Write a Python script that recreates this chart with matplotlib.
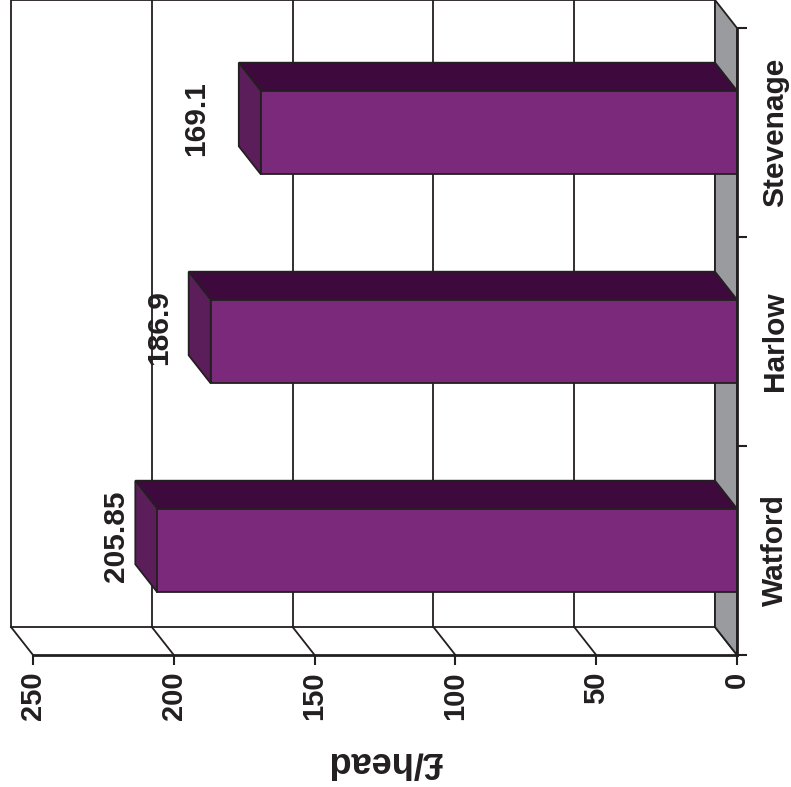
import matplotlib
matplotlib.use("Agg")
import matplotlib.pyplot as plt
from matplotlib.patches import Polygon
from matplotlib.transforms import blended_transform_factory

plt.rcParams['font.family'] = ['Liberation Sans', 'DejaVu Sans']
plt.rcParams['font.weight'] = 'bold'

# Spend per head by town
categories = ['Watford', 'Harlow', 'Stevenage']
values = [205.85, 186.9, 169.1]
value_ticks = [0, 50, 100, 150, 200, 250]
axis_title = '£/head'

# styling
FRONT = '#7b297b'
TOP = '#3e0a3d'
SIDE = '#5c1e5b'
WALL_GREY = '#9a9b9e'
EDGE = '#231f20'
VMAX = 250

W, H = 791, 787
fig = plt.figure(figsize=(W / 100, H / 100), dpi=100)

# depth of the pseudo-3D box, in data units (value, category)
px_per_val = 704 / VMAX
px_per_cat = 209
DX = 22 / px_per_val
DY = 28 / px_per_cat

ax_w = (VMAX + DX) * px_per_val
ax_h = (3 + DY) * px_per_cat
ax = fig.add_axes([(737 - ax_w) / W, (H - 655) / H, ax_w / W, ax_h / H])
ax.set_xlim(VMAX + DX, 0)
ax.set_ylim(-0.5, 2.5 + DY)

lw = 1.3
# back wall
ax.add_patch(Polygon([(DX, -0.5 + DY), (VMAX + DX, -0.5 + DY),
                      (VMAX + DX, 2.5 + DY), (DX, 2.5 + DY)],
                     closed=True, facecolor='white', edgecolor=EDGE,
                     lw=lw, zorder=1, clip_on=False))
for v in value_ticks[1:-1]:
    ax.plot([v + DX, v + DX], [-0.5 + DY, 2.5 + DY], color=EDGE, lw=lw, zorder=1.5)
# floor connectors
for v in value_ticks:
    ax.plot([v, v + DX], [-0.5, -0.5 + DY], color=EDGE, lw=lw, zorder=1.5,
            clip_on=False)
# grey side wall at zero
ax.add_patch(Polygon([(0, -0.5), (0, 2.5), (DX, 2.5 + DY), (DX, -0.5 + DY)],
                     closed=True, facecolor=WALL_GREY, edgecolor=EDGE,
                     lw=lw, zorder=2))

# bars
hw = 0.2
label_nudge = [14.6, 18.3, 22.9]
for i, v in enumerate(values):
    ax.add_patch(Polygon([(0, i + hw), (v, i + hw), (v + DX, i + hw + DY), (DX, i + hw + DY)],
                         closed=True, facecolor=TOP, edgecolor=EDGE, lw=lw, zorder=3))
    ax.add_patch(Polygon([(v, i - hw), (v, i + hw), (v + DX, i + hw + DY), (v + DX, i - hw + DY)],
                         closed=True, facecolor=SIDE, edgecolor=EDGE, lw=lw, zorder=3))
    ax.text(v + label_nudge[i], i + DY / 2, f'{v:g}', rotation=90,
            ha='center', va='center', fontsize=21.5, fontweight='bold',
            color='#231f20', zorder=5)
ax.barh(range(len(values)), values, height=2 * hw, left=0, color=FRONT,
        edgecolor=EDGE, linewidth=lw, zorder=4)

# axes
for s in ['top', 'left']:
    ax.spines[s].set_visible(False)
ax.spines['bottom'].set_bounds(0, VMAX)
ax.spines['bottom'].set_linewidth(2)
ax.spines['bottom'].set_color(EDGE)
ax.spines['bottom'].set_zorder(6)
ax.spines['right'].set_bounds(-0.5, 2.5)
ax.spines['right'].set_linewidth(2)
ax.spines['right'].set_color(EDGE)
ax.spines['right'].set_zorder(6)

ax.set_xticks(value_ticks)
ax.set_xticklabels([str(t) for t in value_ticks])
ax.tick_params(axis='x', direction='out', length=7.5, width=1.5, color=EDGE,
               pad=4.5, labelrotation=90, labelsize=21, labelcolor='#231f20')

ax.yaxis.tick_right()
ax.set_yticks([-0.5, 0.5, 1.5, 2.5])
ax.set_yticklabels([])
ax.set_yticks(range(len(categories)), minor=True)
ax.set_yticklabels(categories, minor=True)
ax.tick_params(axis='y', which='major', direction='out', length=7.5, width=1.5, color=EDGE)
ax.tick_params(axis='y', which='minor', length=0, pad=17, labelrotation=90,
               labelsize=21.5, labelcolor='#231f20')
for lab in ax.get_yticklabels(minor=True):
    lab.set_va('center')

ax.set_xlabel(axis_title, rotation=180, fontsize=26, fontweight='bold', color='#231f20')
ax.xaxis.set_label_coords(VMAX / 2, -107 / ax_h,
                          transform=blended_transform_factory(ax.transData, ax.transAxes))
ax.xaxis.label.set_va('center')

fig.savefig('out.png', dpi=100)
